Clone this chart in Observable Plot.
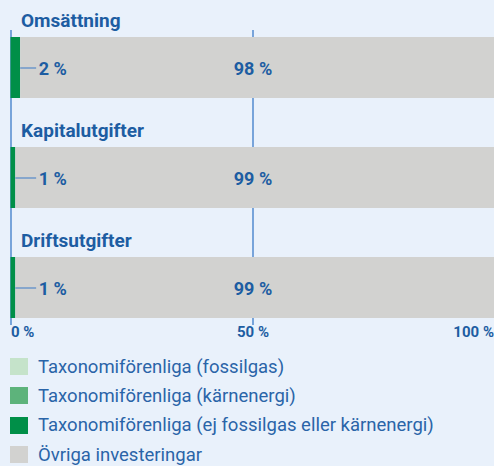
<!DOCTYPE html>
<html>
<head>
<meta charset="utf-8">
<script src="https://cdn.jsdelivr.net/npm/d3@7"></script>
<script src="https://cdn.jsdelivr.net/npm/@observablehq/plot@0.6"></script>
<style>
  html, body { margin: 0; padding: 0; background: #e9f1fb; }
  #chart { width: 494px; }
  #chart svg { display: block; }
  .legend { font-family: Roboto, "Open Sans", sans-serif; color: #2a64a8; font-size: 18.5px; margin-top: 7px; }
  .legend .row { display: flex; align-items: center; height: 29.3px; }
  .legend .sw { width: 18px; height: 17px; margin-left: 10px; margin-right: 10px; flex: none; }
</style>
</head>
<body>
<div id="chart"></div>
<script>
// ---- data ----
const categories = ["Omsättning", "Kapitalutgifter", "Driftsutgifter"];
const series = [
  "Taxonomiförenliga (fossilgas)",
  "Taxonomiförenliga (kärnenergi)",
  "Taxonomiförenliga (ej fossilgas eller kärnenergi)",
  "Övriga investeringar"
];
const fossilgas = [0, 0, 0];
const karnenergi = [0, 0, 0];
const ejFossil = [2, 1, 1];
const ovriga = [98, 99, 99];
const tickValues = [0, 50, 100];
const colors = ["#c5e3ca", "#5db37b", "#008f48", "#d2d2d0"];

const blue = "#1d5da2";
const lineBlue = "#3b7bc8";
const leaderEnd = 5.3; // data units where the leader line ends

const seriesValues = [fossilgas, karnenergi, ejFossil, ovriga];
const rows = [];
categories.forEach((c, i) => {
  series.forEach((s, j) => rows.push({category: c, series: s, value: seriesValues[j][i]}));
});
const greenLabels = categories.map((c, i) => ({
  category: c,
  end: fossilgas[i] + karnenergi[i] + ejFossil[i],
  label: `${fossilgas[i] + karnenergi[i] + ejFossil[i]} %`
}));
const otherLabels = categories.map((c, i) => ({category: c, label: `${ovriga[i]} %`}));

const font = "Roboto, 'Open Sans', sans-serif";

const chart = Plot.plot({
  width: 494,
  height: 345,
  marginTop: 30,
  marginBottom: 20,
  marginLeft: 10,
  marginRight: 0,
  style: {background: "transparent", fontFamily: font},
  x: {domain: [0, 100], range: [10.5, 494.5], axis: null},
  y: {domain: categories, range: [36.7, 317.7], paddingInner: 49 / 110, paddingOuter: 0, axis: null},
  color: {domain: series, range: colors},
  marks: [
    Plot.ruleX([0, 50], {stroke: lineBlue, strokeWidth: 1.3}),
    Plot.barX(rows, {y: "category", x: "value", fill: "series"}),
    Plot.ruleY(greenLabels, {y: "category", x1: "end", x2: () => leaderEnd, stroke: lineBlue, strokeWidth: 1}),
    Plot.text(greenLabels, {y: "category", x: () => leaderEnd, text: "label", textAnchor: "start", dx: 2, dy: 1, fontSize: 18, fontWeight: "bold", fill: blue}),
    Plot.text(otherLabels, {y: "category", x: () => 50, text: "label", textAnchor: "middle", dy: 1, fontSize: 18, fontWeight: "bold", fill: blue}),
    Plot.text(categories, {y: d => d, x: () => 0, text: d => d, textAnchor: "start", dx: 10, dy: -47, fontSize: 19, fontWeight: "bold", fill: blue}),
    Plot.text([tickValues[0]], {x: d => d, frameAnchor: "bottom", text: d => `${d} %`, textAnchor: "start", dy: 11, fontSize: 15, fontWeight: "bold", fill: blue}),
    Plot.text([tickValues[1]], {x: d => d, frameAnchor: "bottom", text: d => `${d} %`, textAnchor: "middle", dy: 11, fontSize: 15, fontWeight: "bold", fill: blue}),
    Plot.text([tickValues[2]], {x: d => d, frameAnchor: "bottom", text: d => `${d} %`, textAnchor: "end", dx: -1, dy: 11, fontSize: 15, fontWeight: "bold", fill: blue})
  ]
});
document.getElementById("chart").appendChild(chart);

const legend = document.createElement("div");
legend.className = "legend";
series.forEach((s, i) => {
  const row = document.createElement("div");
  row.className = "row";
  const sw = document.createElement("span");
  sw.className = "sw";
  sw.style.background = colors[i];
  const t = document.createElement("span");
  t.textContent = s;
  row.appendChild(sw);
  row.appendChild(t);
  legend.appendChild(row);
});
document.getElementById("chart").appendChild(legend);
</script>
</body>
</html>
